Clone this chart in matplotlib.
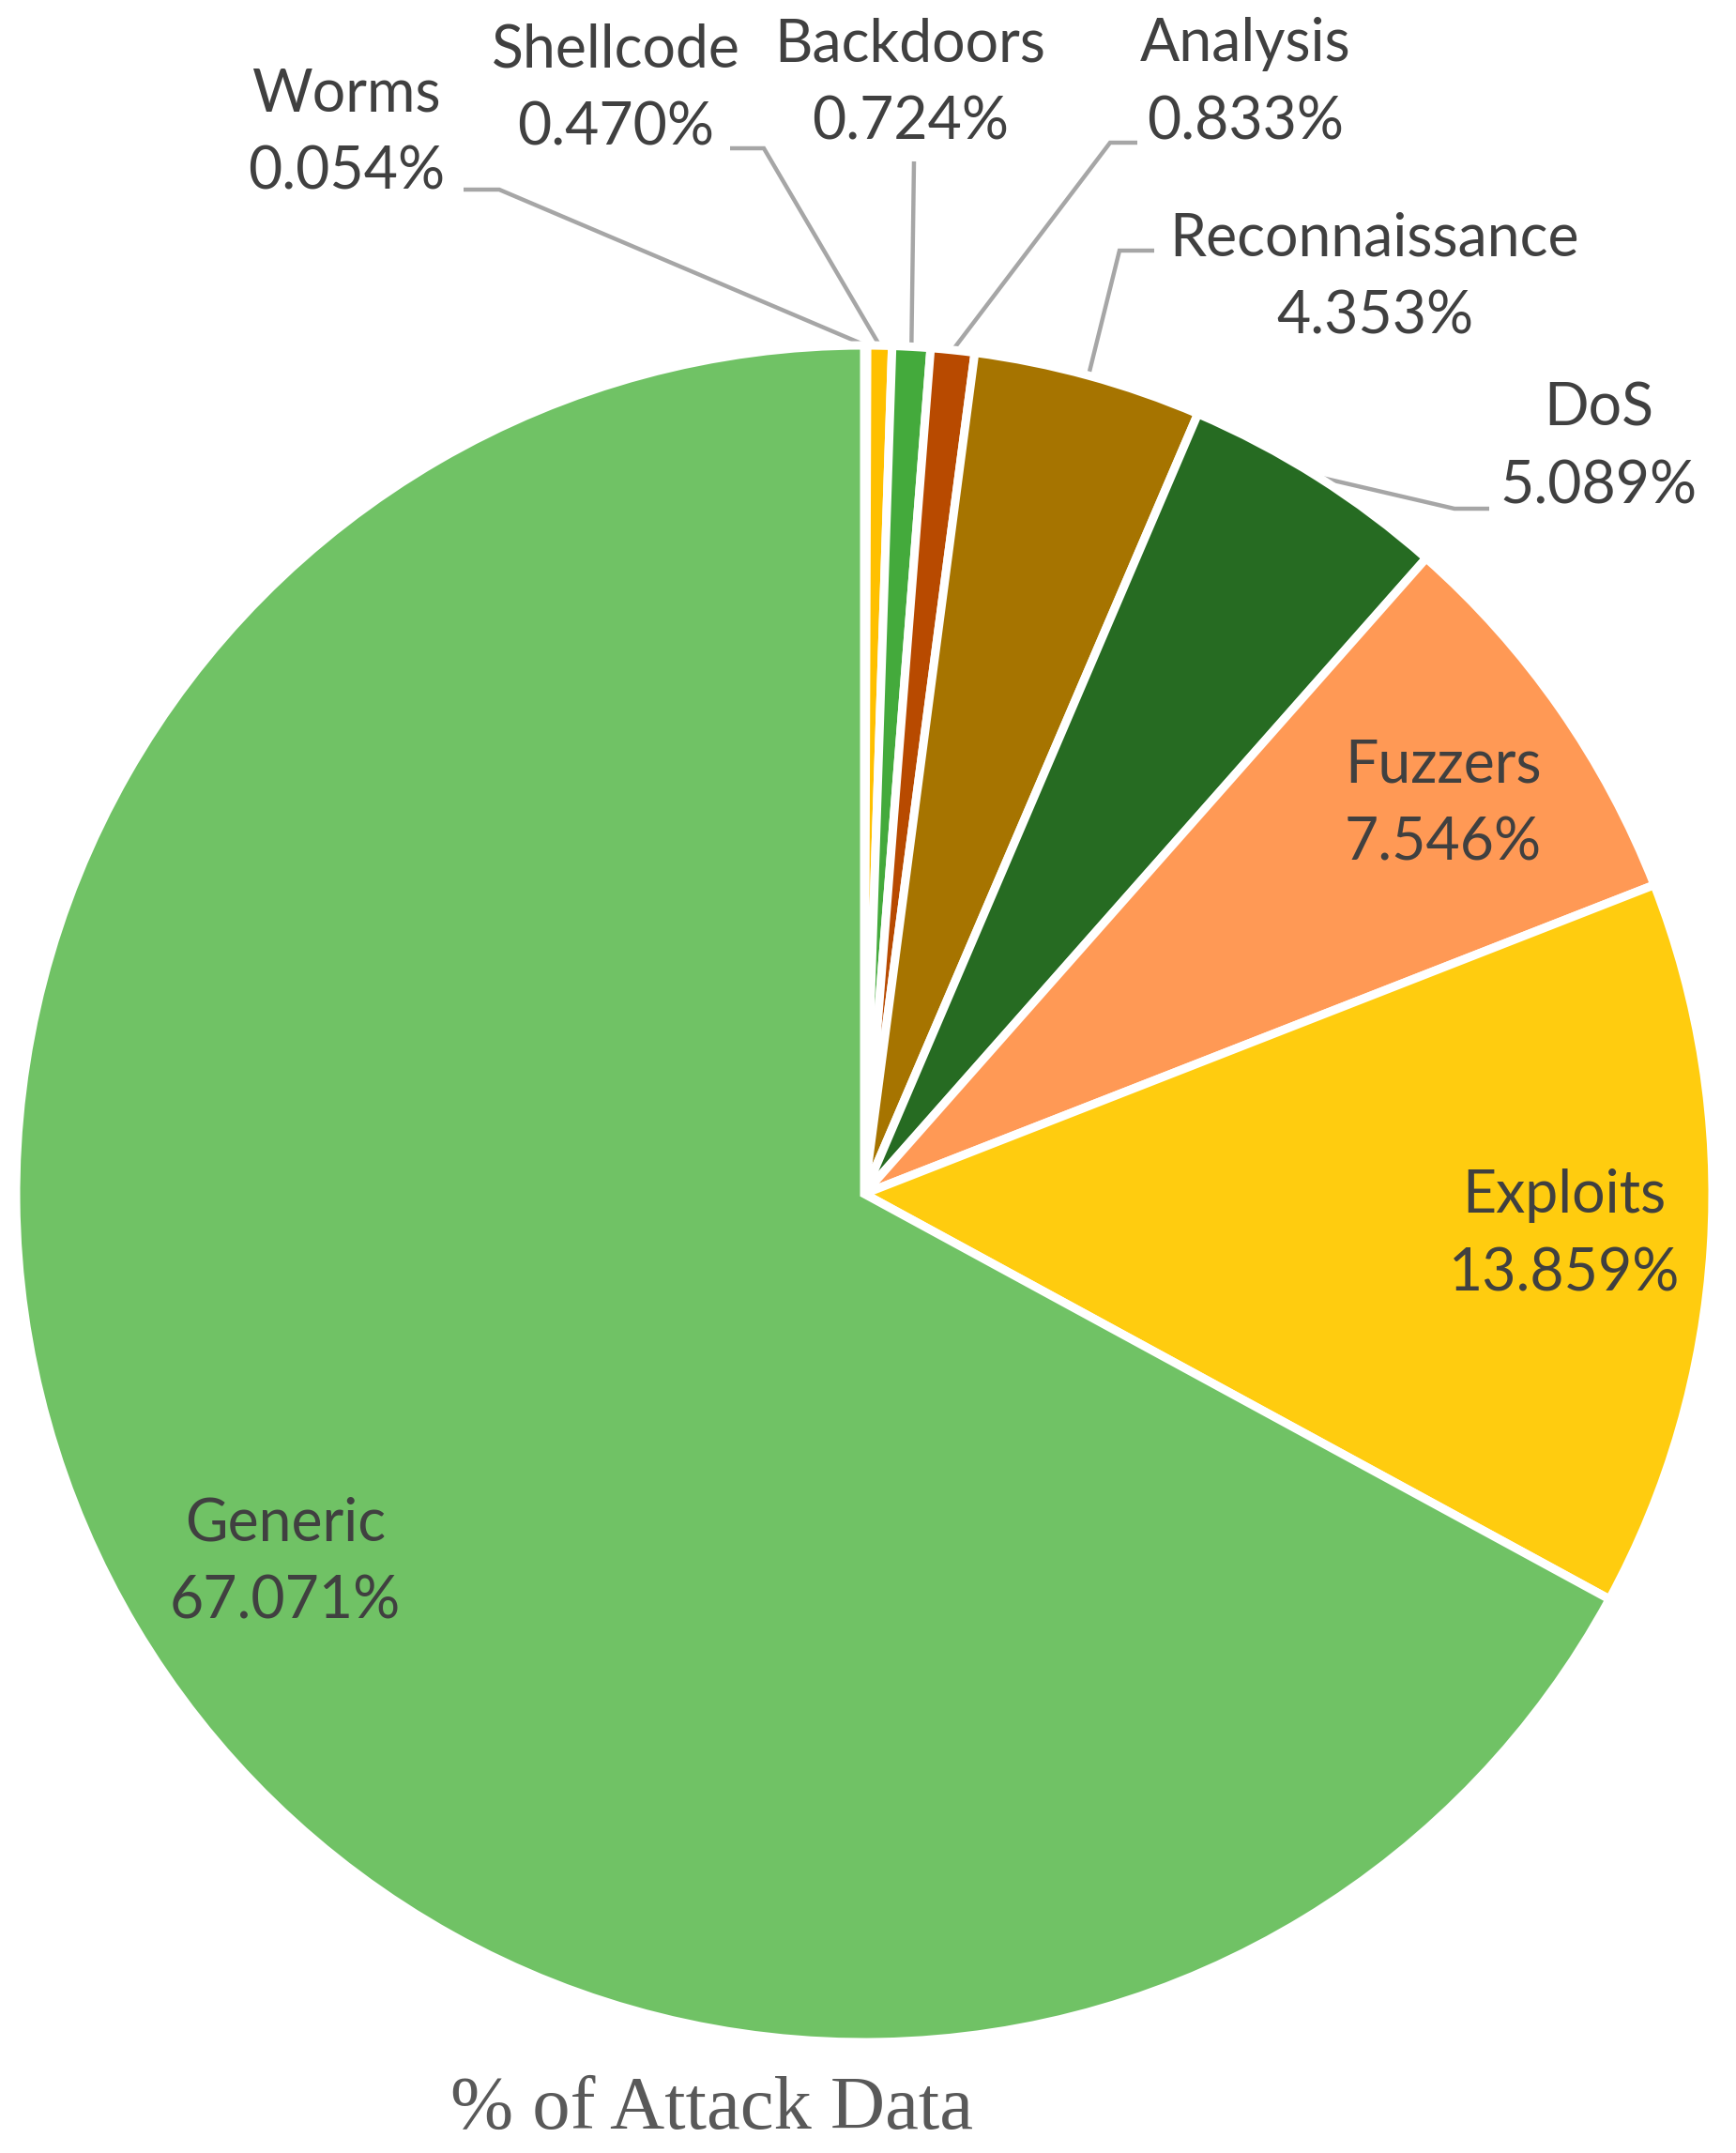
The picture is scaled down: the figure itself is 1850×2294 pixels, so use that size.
import numpy as np
import matplotlib
matplotlib.use("Agg")
import matplotlib.pyplot as plt

categories = ["Worms", "Shellcode", "Backdoors", "Analysis", "Reconnaissance",
              "DoS", "Fuzzers", "Exploits", "Generic"]
values = [0.054, 0.470, 0.724, 0.833, 4.353, 5.089, 7.546, 13.859, 67.071]
colors = ["#4472C4", "#FFC000", "#44AA3C", "#B84A00", "#A67400",
          "#266B22", "#FF9955", "#FFCC0F", "#70C265"]
title = "% of Attack Data"

W, H = 1850, 2294
fig = plt.figure(figsize=(W / 100, H / 100), dpi=100)
ax = fig.add_axes([0, 0, 1, 1])

cx, cy, R = 921, H - 1272, 904
wedges, _ = ax.pie(values, colors=colors, startangle=90, counterclock=False,
                   center=(cx, cy), radius=R, frame=True,
                   wedgeprops=dict(edgecolor="white", linewidth=6.5))
ax.set_xlim(0, W)
ax.set_ylim(0, H)
ax.set_aspect("equal")
ax.axis("off")

font = ["Lato", "DejaVu Sans"]
tcol = "#404040"
fs = 45

# label centres (image px) and optional leader elbows
label_pos = {
    "Worms": (369, 142),
    "Shellcode": (656, 95),
    "Backdoors": (970, 89),
    "Analysis": (1327, 89),
    "Reconnaissance": (1465, 296),
    "DoS": (1704, 477),
    "Fuzzers": (1538, 857),
    "Exploits": (1667, 1316),
    "Generic": (304, 1665),
}
leaders = {
    "Worms": [(494, 202), (532, 202)],
    "Shellcode": [(778, 158), (814, 158)],
    "Backdoors": [(974, 172)],
    "Analysis": [(1212, 152), (1183, 152)],
    "Reconnaissance": [(1230, 267), (1193, 267)],
    "DoS": [(1587, 542), (1550, 542)],
}

for w, cat, v in zip(wedges, categories, values):
    x, y = label_pos[cat]
    ax.text(x, H - y, f"{cat}\n{v:.3f}%", ha="center", va="center",
            fontsize=fs, color=tcol, family=font, linespacing=1.55)
    if cat in leaders:
        theta = np.deg2rad((w.theta1 + w.theta2) / 2)
        ex, ey = cx + R * np.cos(theta), cy + R * np.sin(theta)
        pts = [(px, H - py) for px, py in leaders[cat]] + [(ex, ey)]
        xs, ys = zip(*pts)
        ax.plot(xs, ys, color="#A6A6A6", linewidth=3.2, solid_capstyle="butt",
                solid_joinstyle="miter", zorder=0.5)

ax.text(759, H - 2248, title, ha="center", va="center", fontsize=58,
        color="#595959", family=["Liberation Serif", "DejaVu Serif"])

fig.savefig("out.png", dpi=100, facecolor="white")
